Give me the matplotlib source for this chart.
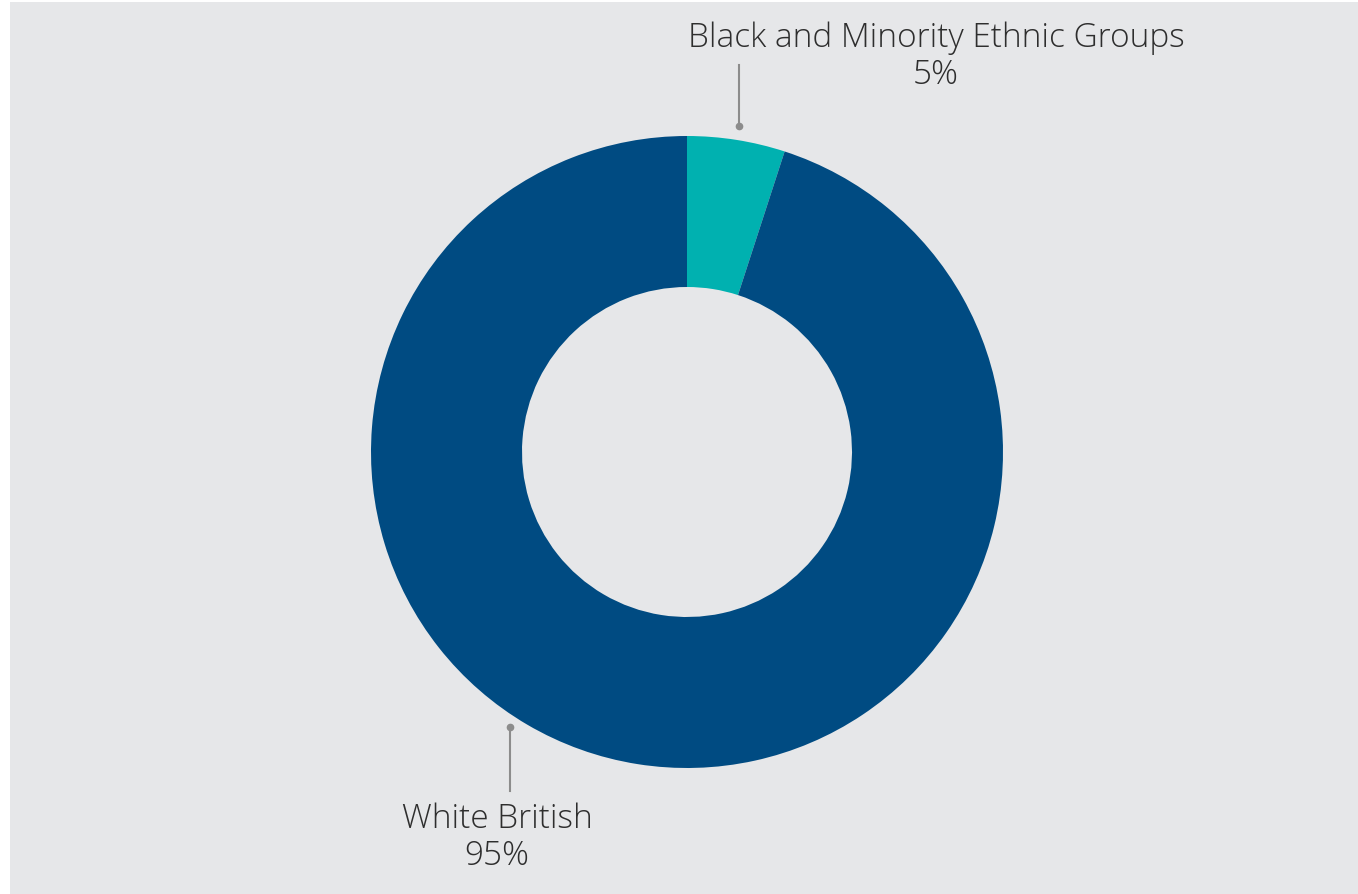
import matplotlib
matplotlib.use("Agg")
import matplotlib.pyplot as plt
from matplotlib.patches import Rectangle

labels = ["Black and Minority Ethnic Groups", "White British"]
values = [5, 95]
pct_labels = ["5%", "95%"]
colors = ["#00B1B0", "#004B82"]

W, H = 1358, 895
fig = plt.figure(figsize=(W / 100, H / 100), dpi=100)
fig.patch.set_facecolor("white")
ax = fig.add_axes([0, 0, 1, 1])
ax.set_xlim(0, W)
ax.set_ylim(0, H)
ax.set_aspect("equal")
ax.axis("off")

ax.add_patch(Rectangle((10, 0), W - 10, H - 3, facecolor="#E6E7E9", edgecolor="none", zorder=0))

cx, cy = 687, H - 453
R = 316
ax.pie(values, colors=colors, startangle=90, counterclock=False,
       center=(cx, cy), radius=R, wedgeprops=dict(width=R - 165, edgecolor="none"),
       frame=False)
ax.set_xlim(0, W)
ax.set_ylim(0, H)

font = "Open Sans"
fw = "light"
fs = 24
tcol = "#2E2E2E"
lcol = "#8C8C8C"

# BME label
ax.plot([739, 739], [H - 127, H - 66], color=lcol, lw=1.5, zorder=3)
ax.plot([739], [H - 127], "o", color=lcol, ms=4.5, zorder=3)
ax.text(936, H - 38, labels[0], ha="center", va="center", fontsize=fs, color=tcol, family=font, weight=fw)
ax.text(936, H - 75, pct_labels[0], ha="center", va="center", fontsize=fs, color=tcol, family=font, weight=fw)

# White British label
ax.plot([510, 510], [H - 728, H - 792], color=lcol, lw=1.5, zorder=3)
ax.plot([510], [H - 728], "o", color=lcol, ms=4.5, zorder=3)
ax.text(497, H - 819, labels[1], ha="center", va="center", fontsize=fs, color=tcol, family=font, weight=fw)
ax.text(497, H - 856, pct_labels[1], ha="center", va="center", fontsize=fs, color=tcol, family=font, weight=fw)

fig.savefig("out.png", dpi=100, facecolor=fig.get_facecolor())
